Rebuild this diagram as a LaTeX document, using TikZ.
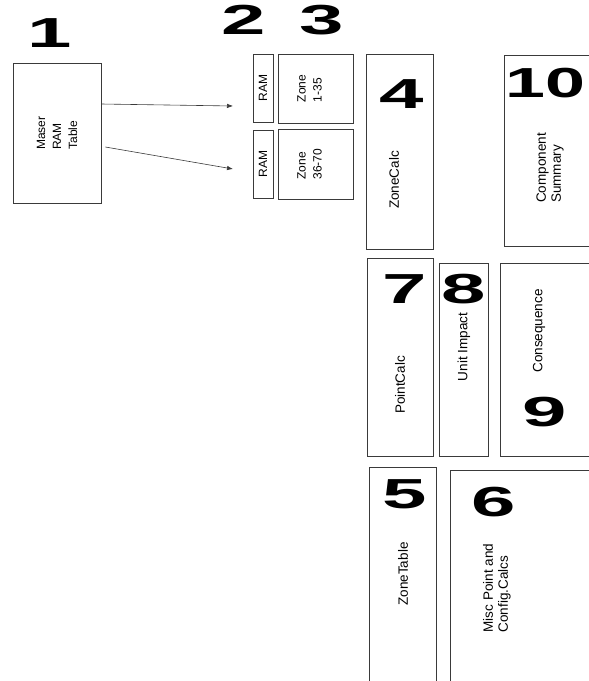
\documentclass[tikz,border=0pt]{standalone}
\usepackage{fontspec}
\setmainfont{Liberation Sans}
\usetikzlibrary{arrows.meta}

\begin{document}
\begin{tikzpicture}[x=1pt,y=-1pt,
  blocco/.style={draw=lineDark, line width=0.7pt, inner sep=0pt},
  cifra/.style={font=\fontsize{42}{42}\selectfont\bfseries, xscale=1.9, inner sep=0pt},
  etic/.style={rotate=90, align=left, font=\fontsize{13.5}{15}\selectfont, inner sep=0pt},
  eticp/.style={rotate=90, align=left, font=\fontsize{12}{16}\selectfont, inner sep=0pt},
  freccia/.style={draw=lineDark, line width=0.6pt, -{Latex[length=6pt,width=4.5pt]}}]

% Colori
\definecolor{lineDark}{HTML}{3A3A3A}

% Cornice della pagina
\useasboundingbox (0,0) rectangle (589,681);
\clip (0,0) rectangle (589,681);

% Tabella principale
\node[cifra] (n1) at (50,33) {1};
\node[blocco, minimum width=88pt, minimum height=140pt] (mrt) at (57,133) {};
\node[eticp] (tmrt) at (mrt.center) {Maser\\RAM\\Table};

% Blocchi RAM e zone
\node[cifra] (n2) at (244,20) {2};
\node[cifra] (n3) at (322,20) {3};
\node[blocco, minimum width=20pt, minimum height=68pt] (ramA) at (263,88) {};
\node[blocco, minimum width=75pt, minimum height=69pt] (zonaA) at (315.5,88.5) {};
\node[blocco, minimum width=20pt, minimum height=68pt] (ramB) at (263,164) {};
\node[blocco, minimum width=75pt, minimum height=70pt] (zonaB) at (315.5,164) {};
\node[eticp] (tramA) at (ramA.center) {RAM};
\node[eticp] (tzonaA) at ([xshift=-6pt]zonaA.center) {Zone\\1-35};
\node[eticp] (tramB) at (ramB.center) {RAM};
\node[eticp] (tzonaB) at ([xshift=-6pt]zonaB.center) {Zone\\36-70};

% Frecce dalla tabella
\coordinate (fineA) at (233,106);
\coordinate (fineB) at (233,169);
\draw[freccia] ([yshift=29pt]mrt.east) -- (fineA);
\draw[freccia] ([xshift=4pt,yshift=-14pt]mrt.east) -- (fineB);

% Colonna di destra (in alto)
\node[blocco, minimum width=67pt, minimum height=195pt] (zcalc) at (399.5,151.5) {};
\node[cifra] (n4) at (402,94) {4};
\node[etic] (tz4) at (394,180) {ZoneCalc};

\node[blocco, minimum width=140pt, minimum height=191pt, anchor=north west] (csum) at (504,55) {};
\node[cifra, xscale=0.9, anchor=west] (n10) at (505,83) {10};
\node[etic] (tz10) at (550,168) {Component\\Summary};

% Fascia centrale
\node[blocco, minimum width=66pt, minimum height=198pt] (pcalc) at (400,357) {};
\node[cifra] (n7) at (405,289) {7};
\node[etic] (tz7) at (400,385) {PointCalc};

\node[blocco, minimum width=49pt, minimum height=193pt] (uimp) at (463.5,359.5) {};
\node[cifra] (n8) at (464,289) {8};
\node[etic] (tz8) at (464,347) {Unit Impact};

\node[blocco, minimum width=140pt, minimum height=193pt, anchor=north west] (cons) at (500,263) {};
\node[etic] (tz9) at (539,331) {Consequence};
\node[cifra] (n9) at (545,412) {9};

% Fascia in basso
\node[blocco, minimum width=67pt, minimum height=260pt, anchor=north west] (ztab) at (369,467) {};
\node[cifra] (n5) at (405,494) {5};
\node[etic] (tz5) at (403,574) {ZoneTable};

\node[blocco, minimum width=180pt, minimum height=260pt, anchor=north west] (misc) at (450,470) {};
\node[cifra] (n6) at (494,502) {6};
\node[etic] (tz6) at (497,588) {Misc Point and\\Config.Calcs};

\end{tikzpicture}
\end{document}
